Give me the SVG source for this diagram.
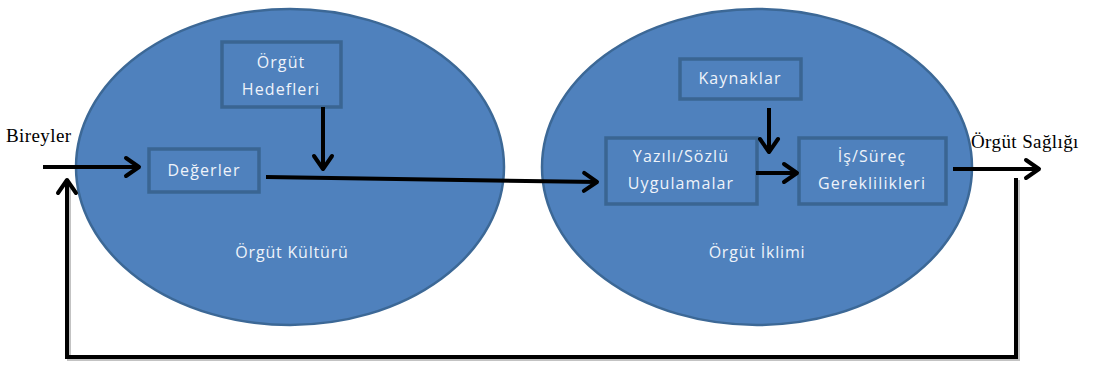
<svg xmlns="http://www.w3.org/2000/svg" width="1093" height="367" viewBox="0 0 1093 367">
<style>
.ell{fill:#4f81bd;stroke:#3c6896;stroke-width:2.5}
.box{fill:#4f81bd;stroke:#3a6592;stroke-width:3.5}
.bt{font-family:"Open Sans","Liberation Sans",sans-serif;font-size:16px;fill:#eef3fa;text-anchor:middle;letter-spacing:1.1px}
.lt{font-family:"Open Sans","Liberation Sans",sans-serif;font-size:16px;fill:#eef3fa;text-anchor:middle;letter-spacing:0.8px}
.st{font-family:"Liberation Serif","Times New Roman",serif;font-size:19px;fill:#000;letter-spacing:0.4px}
.ln{fill:none;stroke:#000;stroke-width:4}
</style>
<defs>
<marker id="ah" viewBox="-18 -12 20 24" refX="0" refY="0" markerWidth="20" markerHeight="24" markerUnits="userSpaceOnUse" orient="auto">
<path d="M-14,-9 L-1,0 L-14,9" fill="none" stroke="#000" stroke-width="4" stroke-linejoin="round" stroke-linecap="round"/>
</marker>
</defs>
<g id="orgut-kulturu">
<ellipse class="ell" cx="290" cy="167" rx="214" ry="158"/>
<text class="lt" x="292" y="258">Örgüt Kültürü</text>
</g>
<g id="orgut-iklimi">
<ellipse class="ell" cx="757" cy="167" rx="215" ry="158"/>
<text class="lt" x="757" y="258">Örgüt İklimi</text>
</g>
<g id="orgut-hedefleri">
<rect class="box" x="222" y="42" width="119" height="65"/>
<text class="bt" x="281" y="68">Örgüt</text>
<text class="bt" x="281" y="95">Hedefleri</text>
</g>
<g id="degerler">
<rect class="box" x="149" y="149" width="110" height="43"/>
<text class="bt" x="204" y="176">Değerler</text>
</g>
<g id="kaynaklar">
<rect class="box" x="680" y="59" width="121" height="40"/>
<text class="bt" x="740" y="84">Kaynaklar</text>
</g>
<g id="yazili-sozlu">
<rect class="box" x="606" y="138" width="151" height="66"/>
<text class="bt" x="681" y="162">Yazılı/Sözlü</text>
<text class="bt" x="681" y="189">Uygulamalar</text>
</g>
<g id="is-surec">
<rect class="box" x="799" y="138" width="147" height="66"/>
<text class="bt" x="872" y="162">İş/Süreç</text>
<text class="bt" x="872" y="189">Gereklilikleri</text>
</g>
<g id="bireyler">
<text class="st" x="6" y="142">Bireyler</text>
</g>
<g id="orgut-sagligi">
<text class="st" x="971" y="148">Örgüt Sağlığı</text>
</g>
<g id="connectors">
<path class="ln" d="M43,167 L140,167" marker-end="url(#ah)"/>
<path class="ln" d="M323,107 L323,170" marker-end="url(#ah)"/>
<path class="ln" d="M266,177 L598,182" marker-end="url(#ah)"/>
<path class="ln" d="M769,108 L769,153" marker-end="url(#ah)"/>
<path class="ln" d="M756,173 L798,173" marker-end="url(#ah)"/>
<path class="ln" d="M953,169 L1040,169" marker-end="url(#ah)"/>
<path d="M1018,180 L1018,359 L69,359 L69,182" fill="none" stroke="#888" stroke-width="4" opacity="0.5"/>
<path class="ln" d="M1016,178 L1016,357 L67,357 L67,179" marker-end="url(#ah)"/>
</g>
</svg>
